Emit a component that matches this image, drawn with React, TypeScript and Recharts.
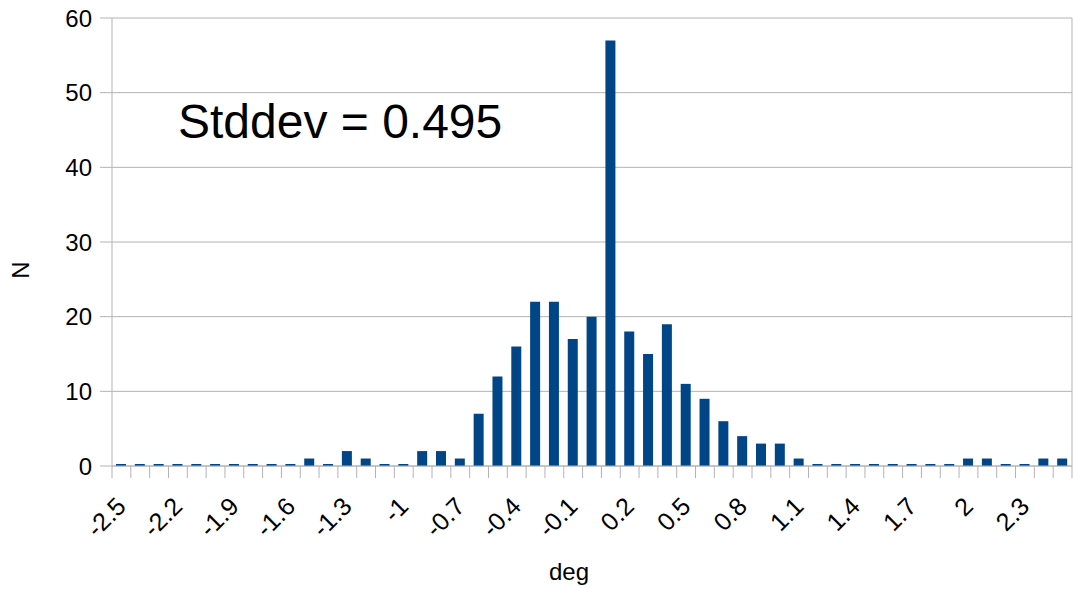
import { BarChart, Bar, XAxis, YAxis, CartesianGrid } from "recharts";

// histogram bins (deg) and counts
const categories = [
  "-2.5", "-2.4", "-2.3", "-2.2", "-2.1", "-2", "-1.9", "-1.8", "-1.7", "-1.6",
  "-1.5", "-1.4", "-1.3", "-1.2", "-1.1", "-1", "-0.9", "-0.8", "-0.7", "-0.6",
  "-0.5", "-0.4", "-0.3", "-0.2", "-0.1", "0", "0.1", "0.2", "0.3", "0.4",
  "0.5", "0.6", "0.7", "0.8", "0.9", "1", "1.1", "1.2", "1.3", "1.4",
  "1.5", "1.6", "1.7", "1.8", "1.9", "2", "2.1", "2.2", "2.3", "2.4", "2.5",
];

const counts = [
  0, 0, 0, 0, 0, 0, 0, 0, 0, 0,
  1, 0, 2, 1, 0, 0, 2, 2, 1, 7,
  12, 16, 22, 22, 17, 20, 57, 18, 15, 19,
  11, 9, 6, 4, 3, 3, 1, 0, 0, 0,
  0, 0, 0, 0, 0, 1, 1, 0, 0, 1, 1,
];

const yTicks = [0, 10, 20, 30, 40, 50, 60];
const stddevText = "Stddev = 0.495";

const data = categories.map((deg, i) => ({ deg, n: counts[i] }));

const W = 1073;
const H = 589;
const PLOT_LEFT = 112;
const PLOT_RIGHT = 1072;
const BAND = (PLOT_RIGHT - PLOT_LEFT) / categories.length;
const FONT = "'Liberation Sans', Arial, sans-serif";
const GRID = "#b3b3b3";
const BLUE = "#004586";

// ticks sit on bin boundaries, labels on every third bin
function DegTick(props: any) {
  const { x, y, index, payload } = props;
  const left = x - BAND / 2;
  const tx = x + 6;
  const ty = y + 42;
  return (
    <g>
      <line x1={left} x2={left} y1={y} y2={y + 12} stroke={GRID} />
      {index === categories.length - 1 && (
        <line x1={x + BAND / 2} x2={x + BAND / 2} y1={y} y2={y + 12} stroke={GRID} />
      )}
      {index % 3 === 0 && (
        <text
          x={tx}
          y={ty}
          textAnchor="end"
          transform={`rotate(-45 ${tx} ${ty})`}
          fontSize={25}
          fontFamily={FONT}
          fill="#000"
        >
          {payload.value}
        </text>
      )}
    </g>
  );
}

export default function App() {
  return (
    <div style={{ position: "absolute", left: 0, top: 0, width: W, height: H, background: "#fff" }}>
      <BarChart width={W} height={H} data={data} margin={{ top: 18, right: 0, left: 0, bottom: 0 }}>
        <CartesianGrid vertical={false} stroke={GRID} />
        <XAxis
          dataKey="deg"
          height={123}
          interval={0}
          tickSize={0}
          tickMargin={0}
          tickLine={false}
          axisLine={{ stroke: GRID }}
          tick={<DegTick />}
          label={{
            content: () => (
              <text x={569} y={580} textAnchor="middle" fontSize={24} fontFamily={FONT} fill="#000">
                deg
              </text>
            ),
          }}
        />
        <YAxis
          width={PLOT_LEFT}
          domain={[0, 60]}
          ticks={yTicks}
          tickSize={12}
          tickMargin={8}
          tickLine={{ stroke: GRID }}
          axisLine={{ stroke: GRID }}
          tick={{ fontSize: 24, fontFamily: FONT, fill: "#000" }}
          label={{
            content: () => (
              <text
                x={29}
                y={270}
                textAnchor="middle"
                transform="rotate(-90 29 270)"
                fontSize={24}
                fontFamily={FONT}
                fill="#000"
              >
                N
              </text>
            ),
          }}
        />
        <YAxis
          yAxisId="right"
          orientation="right"
          width={1}
          domain={[0, 60]}
          tick={false}
          tickLine={false}
          axisLine={{ stroke: GRID }}
        />
        <Bar dataKey="n" fill={BLUE} barSize={10} minPointSize={2} isAnimationActive={false} />
      </BarChart>
      <svg width={W} height={H} style={{ position: "absolute", left: 0, top: 0, pointerEvents: "none" }}>
        <text x={178} y={138} fontSize={48} fontFamily={FONT} fill="#000">
          {stddevText}
        </text>
      </svg>
    </div>
  );
}
